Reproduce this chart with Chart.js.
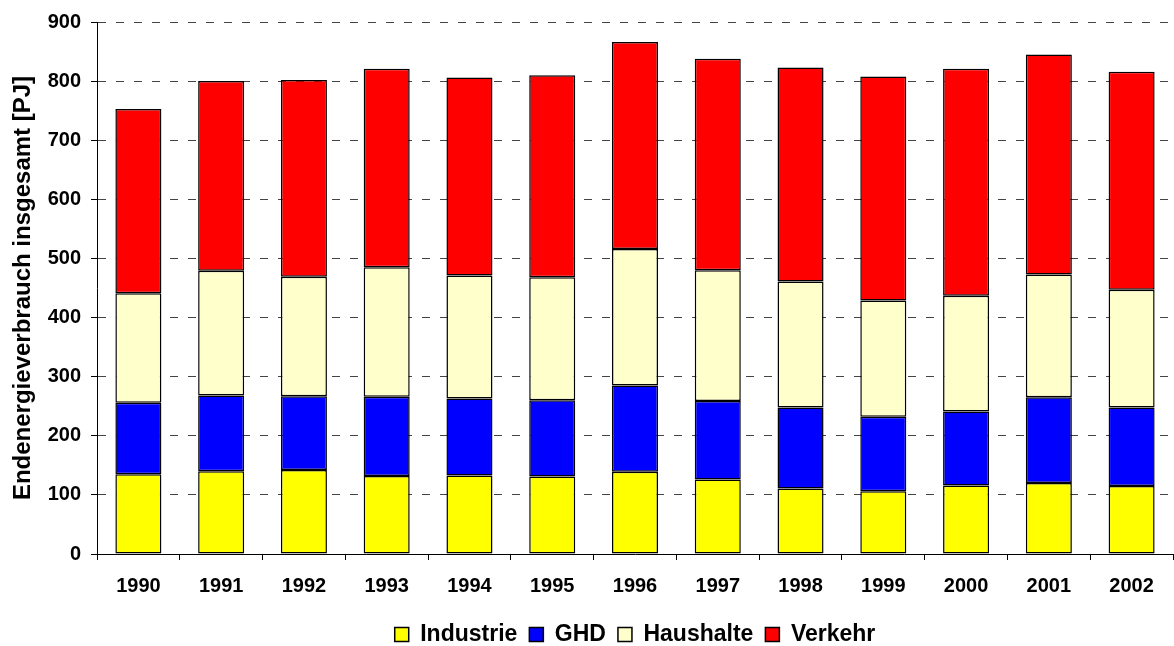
<!DOCTYPE html>
<html>
<head>
<meta charset="utf-8">
<script src="https://cdn.jsdelivr.net/npm/chart.js@4/dist/chart.umd.min.js"></script>
<style>
  html, body { margin: 0; padding: 0; background: #fff; }
  #wrap { width: 1174px; height: 646px; position: relative; }
</style>
</head>
<body>
<div id="wrap"><canvas id="c"></canvas></div>
<script>
const years = ['1990','1991','1992','1993','1994','1995','1996','1997','1998','1999','2000','2001','2002'];
const industrie = [135,140,142,132,133,131,139,126,111,106,116,120,115];
const ghd       = [121,128,125,134,130,129,146,133,137,126,125,145,133];
const haushalte = [185,211,202,219,208,208,231,221,213,197,196,208,199];
const verkehr   = [312,321,333,336,335,342,350,358,362,379,384,372,369];
const yTicks = [0,100,200,300,400,500,600,700,800,900];

const FONT = "'Liberation Sans', Arial, sans-serif";

function ds(label, data, color) {
  return {
    label, data,
    backgroundColor: color,
    borderColor: '#000',
    borderWidth: 1.5,
    borderSkipped: false,
    categoryPercentage: 1.0,
    barPercentage: 0.556
  };
}

const LEGEND_H = 48;
const LEGEND_TOP = 611;
const legendFix = {
  id: 'legendFix',
  beforeLayout(chart) {
    const lg = chart.legend;
    if (lg && !lg._wrappedFit) {
      const orig = lg.fit.bind(lg);
      lg.fit = function () { orig(); this.height = LEGEND_H; };
      lg._wrappedFit = true;
    }
  },
  afterLayout(chart) {
    const lg = chart.legend;
    if (lg) {
      lg.left = chart.chartArea.left;
      lg.right = chart.chartArea.right;
      lg.top = LEGEND_TOP;
      lg.bottom = lg.top + LEGEND_H;
      if (lg.adjustHitBoxes) lg.adjustHitBoxes();
    }
  }
};

new Chart(document.getElementById('c'), {
  type: 'bar',
  data: {
    labels: years,
    datasets: [
      ds('Industrie', industrie, '#FFFF00'),
      ds('GHD', ghd, '#0000FF'),
      ds('Haushalte', haushalte, '#FFFFCC'),
      ds('Verkehr', verkehr, '#FF0000')
    ]
  },
  options: {
    responsive: true,
    maintainAspectRatio: false,
    animation: false,
    layout: { padding: { left: 0, right: 1, top: 17, bottom: 0 } },
    plugins: {
      tooltip: { enabled: false },
      legend: {
        position: 'bottom',
        labels: {
          font: { family: FONT, size: 23, weight: 'bold' },
          color: '#000',
          boxWidth: 14,
          boxHeight: 14,
          padding: 12
        }
      }
    },
    scales: {
      x: {
        stacked: true,
        afterFit(s) { s.height = 44; },
        grid: {
          offset: true,
          drawOnChartArea: false,
          drawTicks: true,
          tickLength: 6,
          tickColor: '#000'
        },
        border: { display: true, color: '#000', width: 1 },
        ticks: {
          font: { family: FONT, size: 20, weight: 'bold' },
          color: '#000',
          padding: 14,
          maxRotation: 0
        }
      },
      y: {
        stacked: true,
        min: 0,
        max: 900,
        afterFit(s) { s.width = 97; },
        afterBuildTicks(s) { s.ticks = yTicks.map(v => ({ value: v })); },
        grid: {
          color: ctx => (ctx.tick && ctx.tick.value === 0) ? 'rgba(0,0,0,0)' : '#444',
          lineWidth: 1,
          drawTicks: true,
          tickLength: 6,
          tickColor: '#000',
          tickBorderDash: []
        },
        border: { display: true, color: '#000', width: 1, dash: [8, 10] },
        ticks: {
          font: { family: FONT, size: 20, weight: 'bold' },
          color: '#000',
          padding: 10
        },
        title: {
          display: true,
          text: 'Endenergieverbrauch insgesamt [PJ]',
          font: { family: FONT, size: 24, weight: 'bold' },
          color: '#000',
          padding: { top: 9, bottom: 0 }
        }
      }
    }
  },
  plugins: [legendFix]
});
</script>
</body>
</html>
